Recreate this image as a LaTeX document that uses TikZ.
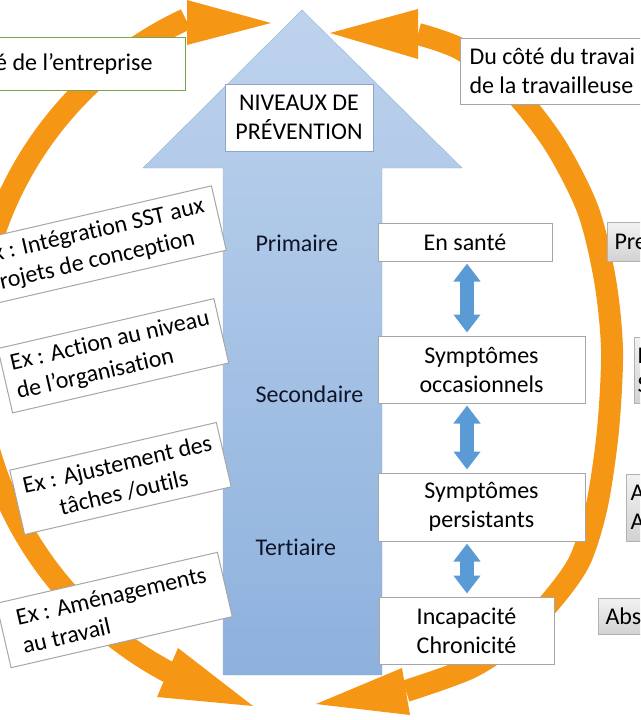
\documentclass[tikz,border=0pt]{standalone}
\usepackage{fontspec}
\setmainfont{Carlito}[Ligatures={NoCommon}]
\usepackage{tikz}
\usetikzlibrary{arrows.meta}
\definecolor{ringorange}{RGB}{245,150,20}
\definecolor{lvltop}{RGB}{190,211,237}
\definecolor{lvlbot}{RGB}{141,177,221}
\definecolor{lvledge}{RGB}{150,180,215}
\definecolor{lvlbord}{RGB}{140,165,200}
\definecolor{linkblue}{RGB}{91,155,213}
\definecolor{boxgray}{RGB}{166,166,166}
\definecolor{boxgreen}{RGB}{120,165,80}
\definecolor{lvltext}{RGB}{15,20,40}
\tikzset{
	txtbox/.style={draw=boxgray, fill=white, line width=1pt, align=center, inner sep=0pt},
	exbox/.style={draw=boxgray, fill=white, line width=1pt, rotate=13, minimum height=66pt, inner xsep=9pt, inner ysep=0pt, align=left},
	sidebox/.style={draw=gray!60, top color=gray!10, bottom color=gray!35, line width=1pt, anchor=west, inner xsep=7pt, align=left},
	ring/.style={draw=ringorange, line width=22pt},
	ringtip/.style={fill=ringorange},
	dblarr/.style={draw=linkblue, line width=14pt, {Triangle[width=26pt,length=18pt]}-{Triangle[width=26pt,length=18pt]}, shorten <=2pt, shorten >=3pt},
	lvl/.style={anchor=west, text=lvltext}
}
\begin{document}
\begin{tikzpicture}[x=1pt, y=-1pt, every node/.style={font=\fontsize{24}{29}\selectfont}]
			\useasboundingbox (0,0) rectangle (640,720);
			\clip (0,0) rectangle (640,720);
			\shadedraw[top color=lvltop, bottom color=lvlbot, draw=lvledge] (302,10) -- (462,168) -- (382,168) -- (382,675) -- (223,675) -- (223,168) -- (143,168) -- cycle;
			\draw[ring] plot[smooth, samples=40, domain=115:242] ({340+365*cos(\x)}, {350-365*sin(\x)});
			\draw[ring] plot[smooth] coordinates {(418,34) (462,50) (512,90) (555,145) (588,210) (605,280) (612,350) (608,430) (597,505) (580,560) (552,600) (515,638) (470,668) (406,691)};
			\fill[ringtip] (187,0) -- (271,23) -- (187,45) -- cycle;
			\fill[ringtip] (418,9) -- (330,33) -- (418,59) -- cycle;
			\fill[ringtip] (178,648) -- (253,706) -- (157,697) -- cycle;
			\fill[ringtip] (402,668) -- (316,704) -- (410,715) -- cycle;
			\node[txtbox, draw=lvlbord, minimum width=148pt, minimum height=67pt] (niveaux) at (299,117.5) {NIVEAUX DE\\PRÉVENTION};
			\node[lvl] (prim) at (252,243) {Primaire};
			\node[lvl] (sec) at (252,394) {Secondaire};
			\node[lvl] (tert) at (252,547) {Tertiaire};
			\node[txtbox, minimum width=174pt, minimum height=38pt] (sante) at (465,242) {En santé};
			\node[txtbox, minimum width=207pt, minimum height=67pt] (occas) at (481.5,369.5) {Symptômes\\occasionnels};
			\node[txtbox, minimum width=207pt, minimum height=68pt] (pers) at (481.5,507) {Symptômes\\persistants};
			\node[txtbox, minimum width=175pt, minimum height=67pt] (incap) at (466.5,630.5) {Incapacité\\Chronicité};
			\coordinate (ax) at (467,0);
			\foreach \a/\b in {sante/occas, occas/pers, pers/incap}
				\draw[dblarr] (\a.south -| ax) -- (\b.north -| ax);
			\node[txtbox, draw=boxgreen, anchor=east, inner xsep=33pt, minimum height=53pt] (entr) at (186,63.5) {é de l’entreprise};
			\node[txtbox, anchor=west, align=left, inner xsep=9pt, minimum height=66pt] (trav) at (460,71) {Du côté du travai\\de la travailleuse};
			\node[exbox, inner xsep=12pt] (ex1) at (102,245) {x : Intégration SST aux\\rojets de conception};
			\node[exbox, minimum width=220pt] (ex2) at (113.25,355.75) {Ex : Action au niveau\\de l’organisation};
			\node[exbox, minimum width=212pt, align=center] (ex3) at (120.5,478.5) {Ex : Ajustement des\\tâches /outils};
			\node[exbox, minimum width=227pt, inner xsep=12pt] (ex4) at (114.25,610) {Ex : Aménagements\\au travail};
			\node[sidebox, minimum height=39pt] (s1) at (607,241.5) {Pre};
			\node[sidebox, minimum height=66pt, inner xsep=3pt] (s2) at (634,370) {P\\S};
			\node[sidebox, minimum height=67pt, inner xsep=4pt] (s3) at (626,507.5) {A\\A};
			\node[sidebox, minimum height=36pt] (s4) at (598,616) {Abs};
		\end{tikzpicture}
\end{document}
